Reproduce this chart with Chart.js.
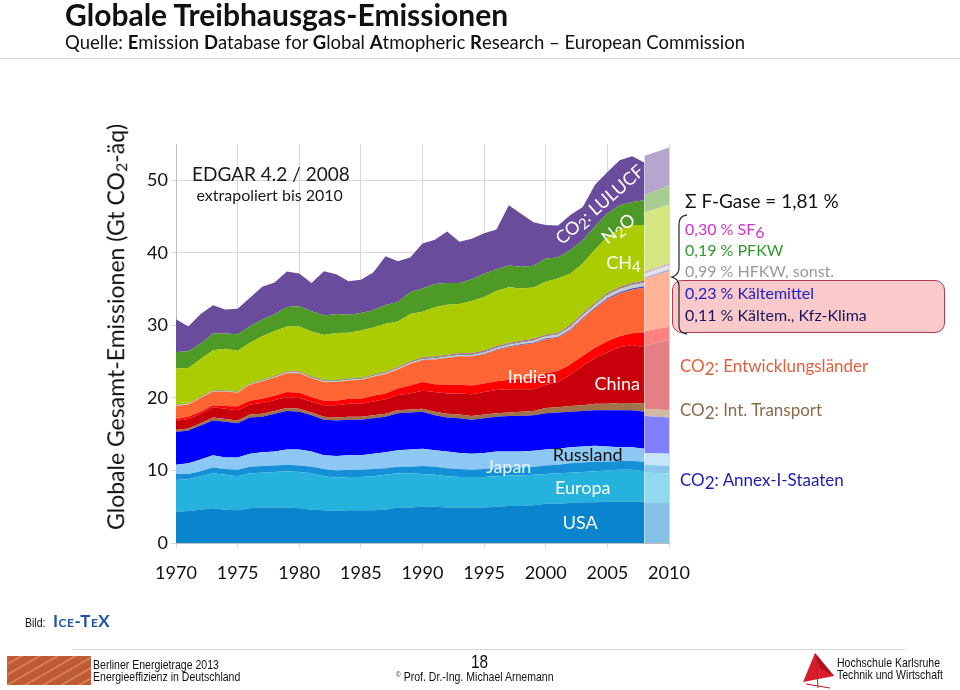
<!DOCTYPE html>
<html>
<head>
<meta charset="utf-8">
<script src="https://cdn.jsdelivr.net/npm/chart.js@4.4.1/dist/chart.umd.min.js"></script>
<style>
body { margin: 0; width: 960px; height: 690px; position: relative; background: #fff; overflow: hidden; font-family: Lato, sans-serif; }
.t { position: absolute; white-space: nowrap; line-height: 1.2; }
.foot { position: absolute; white-space: nowrap; font-family: "Liberation Sans", Arial, sans-serif; font-size: 13px; color: #111; line-height: 14px; transform: scaleX(0.81); transform-origin: left center; }
.lo { position: relative; top: 3px; }
</style>
</head>
<body>
<canvas id="chart" width="960" height="690" style="position:absolute;left:0;top:0"></canvas>

<div class="t" style="left:65px;top:-4px;font-size:30px;font-weight:bold;color:#111">Globale Treibhausgas-Emissionen</div>
<div class="t" style="left:65px;top:31px;font-size:18.5px;color:#111">Quelle: <b>E</b>mission <b>D</b>atabase for <b>G</b>lobal <b>A</b>tmopheric <b>R</b>esearch – European Commission</div>
<div style="position:absolute;left:0;top:58px;width:960px;height:1px;background:#CFD8DD"></div>

<div class="t" style="left:116px;top:327px;font-size:23px;color:#111;transform:translate(-50%,-50%) rotate(-90deg)">Globale Gesamt-Emissionen (Gt CO<span style="font-size:16px;position:relative;top:3px">2</span>-äq)</div>

<!-- legend on the right -->
<div style="position:absolute;left:672px;top:280px;width:271px;height:51px;background:#FAC9C9;border:1.5px solid #B13A55;border-radius:10px"></div>
<svg style="position:absolute;left:0;top:0" width="960" height="690">
  <path d="M687 215 Q679 216 679 224 L679 268 Q679 275 672 277 Q679 279 679 286 L679 326 Q679 333 687 334" fill="none" stroke="#333" stroke-width="1.3"/>
  <polygon points="815,653 803,682 834,676" fill="#D81E2C"/>
  <polygon points="815,653 820,668 834,676" fill="#B0101C"/>
  <path d="M806 684 L830 688 M816 655 L818 688" stroke="#C01824" stroke-width="1" fill="none"/>
</svg>
<div class="t" style="left:685px;top:190px;font-size:19px;color:#111">Σ F-Gase = 1,81 %</div>
<div class="t" style="left:685px;top:219px;font-size:16px;color:#CC33CC">0,30 % SF<span class="lo">6</span></div>
<div class="t" style="left:685px;top:240px;font-size:16px;color:#2E9A2E">0,19 % PFKW</div>
<div class="t" style="left:685px;top:261px;font-size:16px;color:#9A9A9A">0,99 % HFKW, sonst.</div>
<div class="t" style="left:685px;top:283px;font-size:16px;color:#2020C8">0,23 % Kältemittel</div>
<div class="t" style="left:685px;top:305px;font-size:16px;color:#161660">0,11 % Kältem., Kfz-Klima</div>
<div class="t" style="left:680px;top:356px;font-size:17px;color:#E0603E">CO<span class="lo">2</span>: Entwicklungsländer</div>
<div class="t" style="left:680px;top:400px;font-size:17px;color:#8A6A4A">CO<span class="lo">2</span>: Int. Transport</div>
<div class="t" style="left:680px;top:470px;font-size:17px;color:#1C1CB0">CO<span class="lo">2</span>: Annex-I-Staaten</div>

<!-- footer -->
<div class="foot" style="left:25px;top:616px">Bild:</div>
<div class="t" style="left:53px;top:611px;font-size:17px;font-weight:bold;color:#1F55A8;font-variant:small-caps;letter-spacing:0.5px">Ice-TeX</div>
<div style="position:absolute;left:73px;top:649px;width:832px;height:1px;background:#D6D6D6"></div>
<div style="position:absolute;left:7px;top:656px;width:84px;height:29px;background:repeating-linear-gradient(150deg,#BE5A34 0px,#BE5A34 6px,#DA8C5E 7px,#BE5A34 9px)"></div>
<div class="foot" style="left:93px;top:658px">Berliner Energietrage 2013</div>
<div class="foot" style="left:93px;top:670px">Energieeffizienz in Deutschland</div>
<div class="foot" style="left:471px;top:652px;font-size:19px;line-height:20px">18</div>
<div class="foot" style="left:396px;top:670px"><span style="font-size:8px;position:relative;top:-4px">©</span> Prof. Dr.-Ing. Michael Arnemann</div>
<div class="foot" style="left:837px;top:656px">Hochschule Karlsruhe</div>
<div class="foot" style="left:837px;top:668px">Technik und Wirtschaft</div>

<script>
// Jahre (EDGAR 4.2 bis 2008, danach Extrapolation bis 2010)
const years = [1970, 1971, 1972, 1973, 1974, 1975, 1976, 1977, 1978, 1979,
               1980, 1981, 1982, 1983, 1984, 1985, 1986, 1987, 1988, 1989,
               1990, 1991, 1992, 1993, 1994, 1995, 1996, 1997, 1998, 1999,
               2000, 2001, 2002, 2003, 2004, 2005, 2006, 2007, 2008];
const extYears = [2008, 2010];

// Gt CO2-aeq je Schicht (von unten nach oben)
const usa       = [4.3, 4.4, 4.6, 4.8, 4.6, 4.5, 4.8, 4.9, 4.9, 4.9, 4.8, 4.6, 4.5, 4.4, 4.5, 4.5, 4.5, 4.6, 4.9, 4.9,
                   5.0, 5.0, 4.9, 4.9, 4.9, 4.9, 5.0, 5.1, 5.1, 5.2, 5.4, 5.4, 5.5, 5.6, 5.6, 5.7, 5.7, 5.7, 5.7];
const europa    = [4.4, 4.4, 4.6, 4.8, 4.8, 4.7, 4.8, 4.8, 4.9, 5.0, 5.0, 5.0, 4.7, 4.6, 4.6, 4.6, 4.7, 4.8, 4.7, 4.7,
                   4.5, 4.4, 4.3, 4.2, 4.2, 4.2, 4.2, 4.2, 4.2, 4.2, 4.1, 4.2, 4.2, 4.2, 4.3, 4.3, 4.4, 4.4, 4.2];
const japan     = [0.8, 0.7, 0.7, 0.8, 0.8, 0.9, 0.9, 0.9, 0.9, 0.9, 0.9, 0.9, 1.0, 1.0, 1.0, 1.0, 1.0, 0.9, 0.9, 0.9,
                   1.1, 1.1, 1.1, 1.1, 1.0, 1.1, 1.1, 1.1, 1.1, 1.1, 1.2, 1.2, 1.3, 1.3, 1.3, 1.2, 1.2, 1.2, 1.3];
const russland  = [1.3, 1.5, 1.6, 1.7, 1.6, 1.7, 1.8, 1.9, 1.9, 2.1, 2.2, 2.1, 1.9, 2.0, 2.0, 2.0, 2.1, 2.2, 2.3, 2.4,
                   2.4, 2.3, 2.3, 2.2, 2.2, 2.2, 2.3, 2.2, 2.2, 2.2, 2.2, 2.2, 2.2, 2.2, 2.2, 2.1, 1.9, 1.9, 1.8];
const annexRest = [4.5, 4.5, 4.7, 4.8, 4.9, 4.7, 5.0, 4.9, 5.2, 5.3, 5.2, 5.0, 4.9, 4.9, 4.9, 4.9, 4.9, 4.9, 5.1, 5.1,
                   5.1, 4.8, 4.7, 4.8, 4.7, 4.8, 4.8, 4.9, 4.9, 4.9, 5.0, 5.0, 4.9, 4.9, 4.9, 5.0, 5.1, 5.1, 5.1];
const transport = [0.3, 0.3, 0.3, 0.4, 0.4, 0.4, 0.4, 0.4, 0.4, 0.4, 0.4, 0.4, 0.4, 0.4, 0.4, 0.4, 0.4, 0.4, 0.4, 0.4,
                   0.4, 0.5, 0.5, 0.5, 0.5, 0.5, 0.5, 0.5, 0.6, 0.6, 0.7, 0.7, 0.8, 0.8, 0.9, 0.9, 1.0, 1.0, 1.1];
const china     = [1.2, 1.3, 1.3, 1.4, 1.4, 1.4, 1.4, 1.5, 1.5, 1.5, 1.5, 1.5, 1.6, 1.7, 1.8, 1.8, 1.9, 2.0, 2.1, 2.2,
                   2.5, 2.7, 2.8, 2.9, 3.0, 3.1, 3.2, 3.2, 3.1, 3.0, 3.2, 3.5, 4.3, 5.4, 6.3, 7.1, 7.7, 8.0, 7.8];
const indien    = [0.3, 0.3, 0.3, 0.3, 0.4, 0.5, 0.5, 0.6, 0.6, 0.7, 0.7, 0.6, 0.6, 0.6, 0.7, 0.7, 0.8, 0.8, 0.9, 1.1,
                   1.2, 1.1, 1.2, 1.2, 1.2, 1.2, 1.2, 1.3, 1.4, 1.5, 1.6, 1.5, 1.4, 1.4, 1.4, 1.5, 1.5, 1.6, 2.0];
const entw      = [1.8, 1.7, 1.9, 1.9, 2.0, 1.9, 2.2, 2.4, 2.5, 2.6, 2.7, 2.6, 2.6, 2.6, 2.5, 2.6, 2.6, 2.7, 2.6, 3.0,
                   3.0, 3.4, 3.7, 3.9, 4.0, 4.0, 4.3, 4.5, 4.7, 4.8, 4.7, 4.6, 4.7, 5.1, 5.4, 5.8, 5.9, 6.0, 6.2];
const kfzKlima  = [0, 0, 0, 0, 0, 0, 0, 0, 0, 0, 0, 0, 0, 0, 0, 0, 0, 0, 0, 0,
                   0, 0, 0.01, 0.01, 0.01, 0.02, 0.02, 0.02, 0.03, 0.03, 0.03, 0.04, 0.04, 0.04, 0.05, 0.05, 0.05, 0.06, 0.06];
const kaelte    = [0, 0, 0, 0, 0, 0, 0, 0, 0, 0, 0, 0, 0, 0, 0, 0, 0, 0, 0.01, 0.01,
                   0.01, 0.02, 0.02, 0.03, 0.03, 0.04, 0.04, 0.05, 0.05, 0.06, 0.06, 0.07, 0.08, 0.08, 0.09, 0.10, 0.11, 0.11, 0.12];
const hfkw      = [0.05, 0.05, 0.06, 0.06, 0.06, 0.07, 0.07, 0.08, 0.08, 0.09, 0.09, 0.09, 0.10, 0.10, 0.11, 0.11, 0.12, 0.13, 0.13, 0.14,
                   0.15, 0.16, 0.17, 0.18, 0.19, 0.21, 0.23, 0.25, 0.27, 0.29, 0.31, 0.33, 0.35, 0.37, 0.40, 0.43, 0.46, 0.49, 0.51];
const pfkw      = [0.06, 0.06, 0.06, 0.07, 0.07, 0.07, 0.07, 0.08, 0.08, 0.08, 0.09, 0.09, 0.09, 0.09, 0.09, 0.10, 0.10, 0.10, 0.10, 0.10,
                   0.11, 0.11, 0.11, 0.10, 0.10, 0.10, 0.10, 0.10, 0.10, 0.10, 0.09, 0.09, 0.09, 0.09, 0.09, 0.10, 0.10, 0.10, 0.10];
const sf6       = [0.03, 0.03, 0.04, 0.04, 0.04, 0.05, 0.05, 0.05, 0.06, 0.06, 0.06, 0.07, 0.07, 0.07, 0.08, 0.08, 0.08, 0.09, 0.09, 0.10,
                   0.11, 0.11, 0.12, 0.12, 0.12, 0.13, 0.13, 0.13, 0.13, 0.13, 0.13, 0.13, 0.14, 0.14, 0.14, 0.15, 0.15, 0.16, 0.16];
const ch4       = [5.0, 4.9, 5.2, 5.5, 5.7, 5.6, 5.6, 6.0, 6.2, 6.2, 6.2, 6.2, 6.2, 6.5, 6.3, 6.5, 6.5, 6.6, 6.3, 6.5,
                   6.3, 6.8, 6.9, 6.8, 7.2, 7.4, 7.6, 7.7, 7.2, 7.1, 7.3, 7.5, 7.1, 6.9, 7.4, 7.8, 8.0, 8.0, 7.7];
const n2o       = [2.3, 2.3, 2.1, 2.3, 2.1, 2.3, 2.3, 2.3, 2.3, 2.7, 2.8, 2.8, 2.7, 2.6, 2.5, 2.4, 2.4, 2.6, 2.7, 3.0,
                   3.2, 3.2, 3.0, 2.9, 3.0, 3.2, 3.0, 3.0, 3.0, 3.0, 3.2, 2.9, 3.3, 3.2, 3.2, 3.2, 3.3, 3.2, 3.4];
const lulucf    = [4.5, 3.4, 4.1, 3.9, 3.3, 3.5, 3.9, 4.5, 4.4, 4.9, 4.5, 3.9, 6.1, 5.5, 4.6, 4.6, 5.2, 6.7, 5.6, 4.8,
                   6.2, 6.1, 7.1, 5.7, 5.6, 5.6, 5.5, 8.3, 7.3, 6.0, 4.6, 4.4, 4.8, 4.6, 5.7, 5.7, 6.2, 6.3, 5.2];

// extrapolierter Bereich 2008 -> 2010
const extUsa = [5.5, 5.5], extEuropa = [4.2, 4.1], extJapan = [1.1, 1.0], extRussland = [1.6, 1.7];
const extAnnexRest = [5.1, 5.0], extTransport = [1.0, 1.0], extChina = [8.7, 9.7], extIndien = [2.0, 1.8];
const extEntw = [7.2, 7.7], extKfz = [0.06, 0.07], extKaelte = [0.12, 0.13], extHfkw = [0.51, 0.55];
const extPfkw = [0.10, 0.10], extSf6 = [0.16, 0.17], extCh4 = [8.2, 8.1], extN2o = [2.3, 2.7], extLulucf = [5.5, 5.2];

const xTicks = [1970, 1975, 1980, 1985, 1990, 1995, 2000, 2005, 2010];
const yTicks = [0, 10, 20, 30, 40, 50];

const layers = [
  ['USA', usa, extUsa, '#0A84CD'],
  ['Europa', europa, extEuropa, '#25B3DE'],
  ['Japan', japan, extJapan, '#1590D6'],
  ['Russland', russland, extRussland, '#8DC8F4'],
  ['Annex-I sonst.', annexRest, extAnnexRest, '#0000FF'],
  ['Int. Transport', transport, extTransport, '#A0734A'],
  ['China', china, extChina, '#C8000B'],
  ['Indien', indien, extIndien, '#FF0000'],
  ['Entwicklungsländer', entw, extEntw, '#FF6633'],
  ['Kältem., Kfz-Klima', kfzKlima, extKfz, '#161660'],
  ['Kältemittel', kaelte, extKaelte, '#3030E0'],
  ['HFKW, sonst.', hfkw, extHfkw, '#C8C8D0'],
  ['PFKW', pfkw, extPfkw, '#33A033'],
  ['SF6', sf6, extSf6, '#CC33CC'],
  ['CH4', ch4, extCh4, '#AACC00'],
  ['N2O', n2o, extN2o, '#4E9A26'],
  ['CO2 LULUCF', lulucf, extLulucf, '#6A4C9C']
];

function pale(hex) {
  const n = parseInt(hex.slice(1), 16);
  const r = Math.round(((n >> 16) & 255) * 0.5 + 127.5);
  const g = Math.round(((n >> 8) & 255) * 0.5 + 127.5);
  const b = Math.round((n & 255) * 0.5 + 127.5);
  return `rgb(${r},${g},${b})`;
}

const datasets = [];
layers.forEach((l, i) => {
  datasets.push({
    label: l[0], stack: 'main',
    data: years.map((yr, j) => ({x: yr, y: l[1][j]})),
    backgroundColor: l[3], borderColor: 'transparent', borderWidth: 0,
    pointRadius: 0, fill: i === 0 ? 'origin' : '-1'
  });
});
layers.forEach((l, i) => {
  datasets.push({
    label: l[0] + ' (extrapoliert)', stack: 'ext',
    data: extYears.map((yr, j) => ({x: yr, y: l[2][j]})),
    backgroundColor: pale(l[3]), borderColor: 'transparent', borderWidth: 0,
    pointRadius: 0, fill: i === 0 ? 'origin' : '-1'
  });
});

// Beschriftungen im Diagramm (Position in Jahr / Gt)
const chartTexts = [
  {parts: [['EDGAR 4.2 / 2008']], x: 1977.7, y: 50.8, size: 19, color: '#1a1a1a'},
  {parts: [['extrapoliert bis 2010']], x: 1977.6, y: 47.9, size: 16, color: '#1a1a1a'},
  {parts: [['CO'], ['2', true], [': LULUCF']], x: 2004.4, y: 46.6, size: 18, color: '#fff', rot: -41},
  {parts: [['N'], ['2', true], ['O']], x: 2005.9, y: 43.3, size: 18, color: '#fff', rot: -38},
  {parts: [['CH'], ['4', true]], x: 2006.3, y: 38.6, size: 18, color: '#fff'},
  {parts: [['Indien']], x: 1998.9, y: 22.9, size: 18, color: '#fff'},
  {parts: [['China']], x: 2005.8, y: 21.9, size: 18, color: '#fff'},
  {parts: [['Russland']], x: 2003.4, y: 12.1, size: 18, color: '#111'},
  {parts: [['Japan']], x: 1997.0, y: 10.5, size: 18, color: '#E8F4FF'},
  {parts: [['Europa']], x: 2003.0, y: 7.6, size: 18, color: '#fff'},
  {parts: [['USA']], x: 2002.8, y: 2.75, size: 18, color: '#fff'}
];

const textPlugin = {
  id: 'chartTexts',
  afterDatasetsDraw(chart) {
    const ctx = chart.ctx;
    const xs = chart.scales.x, ys = chart.scales.y;
    chartTexts.forEach(t => {
      const fonts = t.parts.map(p => (p[1] ? Math.round(t.size * 0.85) : t.size) + 'px Lato');
      let w = 0;
      t.parts.forEach((p, k) => { ctx.font = fonts[k]; w += ctx.measureText(p[0]).width; });
      ctx.save();
      ctx.translate(xs.getPixelForValue(t.x), ys.getPixelForValue(t.y));
      if (t.rot) ctx.rotate(t.rot * Math.PI / 180);
      ctx.fillStyle = t.color;
      ctx.textBaseline = 'middle';
      ctx.textAlign = 'left';
      let x = -w / 2;
      t.parts.forEach((p, k) => {
        ctx.font = fonts[k];
        ctx.fillText(p[0], x, p[1] ? t.size * 0.22 : 0);
        x += ctx.measureText(p[0]).width;
      });
      ctx.restore();
    });
  }
};

const tickFont = {family: 'Lato', size: 18};

new Chart(document.getElementById('chart').getContext('2d'), {
  type: 'line',
  data: {datasets: datasets},
  options: {
    responsive: false,
    animation: false,
    events: [],
    layout: {padding: {left: 0, top: 144, right: 291, bottom: 104}},
    elements: {line: {tension: 0}},
    plugins: {legend: {display: false}, tooltip: {enabled: false}},
    scales: {
      x: {
        type: 'linear', min: 1970, max: 2010,
        afterFit: s => { s.height = 43; },
        afterBuildTicks: s => { s.ticks = xTicks.map(v => ({value: v})); },
        ticks: {padding: 14, font: tickFont, color: '#111', callback: v => String(v)},
        grid: {color: '#D9D9D9', tickLength: 5},
        border: {color: '#BDBDBD'}
      },
      y: {
        stacked: true, min: 0, max: 55,
        afterFit: s => { s.width = 176; },
        afterBuildTicks: s => { s.ticks = yTicks.map(v => ({value: v})); },
        ticks: {padding: 3, font: tickFont, color: '#111'},
        grid: {color: '#D9D9D9', tickLength: 5},
        border: {color: '#BDBDBD'}
      }
    }
  },
  plugins: [textPlugin]
});
</script>
</body>
</html>
